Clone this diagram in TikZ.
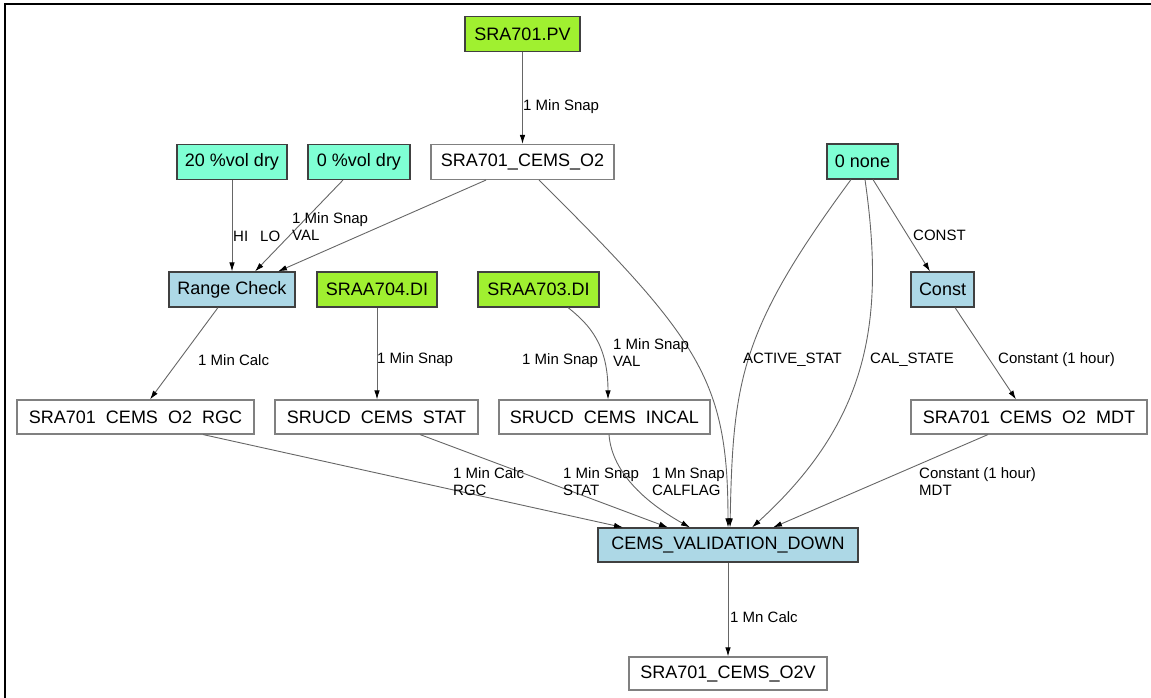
\documentclass[tikz,border=0pt]{standalone}
\usepackage{fontspec}
\setmainfont{Liberation Sans}
\usetikzlibrary{arrows.meta}
\definecolor{aqua}{HTML}{7FFFD4}
\definecolor{lblue}{HTML}{ADD8E6}
\definecolor{lgreen}{HTML}{A0F030}
\definecolor{edgegray}{HTML}{666666}
% wide gap standing in for a clipped underscore
\newcommand\usp{\hspace{0.556em}}

\begin{document}
\begin{tikzpicture}[x=1pt,y=-1pt,
  box/.style={draw=black!75, line width=1.1pt, minimum height=35pt, inner sep=0pt,
              font=\fontsize{18}{20}\selectfont},
  plain/.style={box, draw=black!50, fill=white},
  const/.style={box, fill=aqua},
  func/.style={box, fill=lblue},
  tag/.style={box, fill=lgreen},
  lbl/.style={anchor=west, inner sep=0pt, align=left, font=\fontsize{15}{17}\selectfont},
  link/.style={draw=edgegray, line width=0.9pt, -{Latex[length=9pt,width=5.5pt,color=black]}},
]
\useasboundingbox (0,0) rectangle (1151,698);
% window edge
\draw[line width=2.5pt] (5,698) -- (5,4) -- (1151,4);

% tags and constants
\node[tag, minimum width=115pt] (pv) at (522.5,34) {SRA701.PV};
\node[plain, minimum width=183pt] (o2) at (522.5,162) {SRA701\_CEMS\_O2};
\node[const, minimum width=110pt] (hi) at (232,162) {20 \%vol dry};
\node[const, minimum width=102pt] (lo) at (359,162) {0 \%vol dry};
\node[const, minimum width=71pt] (none) at (862.5,161.5) {0 none};

% functions and inputs
\node[func, minimum width=126pt] (rc) at (232,289.5) {Range Check};
\node[tag, minimum width=120pt] (d704) at (377,289.5) {SRAA704.DI};
\node[tag, minimum width=121pt] (d703) at (538.5,289.5) {SRAA703.DI};
\node[func, minimum width=63pt] (cst) at (942.5,289.5) {Const};

% intermediate points
\node[plain, minimum width=237pt, minimum height=34pt] (rgc) at (135.5,417) {SRA701\usp CEMS\usp O2\usp RGC};
\node[plain, minimum width=203pt, minimum height=34pt] (stat) at (376.5,417) {SRUCD\usp CEMS\usp STAT};
\node[plain, minimum width=211pt, minimum height=34pt] (incal) at (604.5,417) {SRUCD\usp CEMS\usp INCAL};
\node[plain, minimum width=236pt, minimum height=34pt] (mdt) at (1029,417) {SRA701\usp CEMS\usp O2\usp MDT};

% validation and output
\node[func, minimum width=260pt, minimum height=34pt] (cvd) at (728,545) {CEMS\_VALIDATION\_DOWN};
\node[plain, minimum width=198pt, minimum height=33pt] (o2v) at (728,673.5) {SRA701\_CEMS\_O2V};

% connectors
\draw[link] (pv) -- (o2);
\draw[link] (hi) -- (rc);
\draw[link] ([xshift=-16pt]lo.south) -- ([xshift=23pt]rc.north);
\draw[link] ([xshift=-36.5pt]o2.south) -- ([xshift=46pt]rc.north);
\draw[link] ([xshift=-14pt]rc.south) -- ([xshift=14.5pt]rgc.north);
\draw[link] (d704.south) -- (d704.south |- stat.north);
\draw[link] ([xshift=29.5pt]d703.south) .. controls (590,325) and (608,345) .. ([xshift=3.5pt]incal.north);
\draw[link] ([xshift=-11.5pt]none.south) .. controls (740,330) and (733,380) .. ([xshift=2pt]cvd.north);
\draw[link] ([xshift=2.5pt]none.south) .. controls (885,320) and (870,420) .. ([xshift=24pt]cvd.north);
\draw[link] ([xshift=10.5pt]none.south) -- ([xshift=-12.5pt]cst.north);
\draw[link] ([xshift=12.5pt]cst.south) -- ([xshift=-13pt]mdt.north);
\draw[link] ([xshift=16.5pt]o2.south) .. controls (700,340) and (728,380) .. (cvd.north);
\draw[link] ([xshift=67.5pt]rgc.south) -- ([xshift=-105pt]cvd.north);
\draw[link] ([xshift=43.5pt]stat.south) -- ([xshift=-60pt]cvd.north);
\draw[link] ([xshift=4.5pt]incal.south) .. controls (612,475) and (650,505) .. ([xshift=-38pt]cvd.north);
\draw[link] ([xshift=-41pt]mdt.south) -- ([xshift=45pt]cvd.north);
\draw[link] (cvd) -- (o2v);

% connector labels
\node[lbl] (lpv) at (523,107) {1 Min Snap};
\node[lbl] (lhi) at (233,236) {HI};
\node[lbl] (llo) at (260,236) {LO};
\node[lbl] (lval) at (292,227) {1 Min Snap\\VAL};
\node[lbl] (lrc) at (198,360) {1 Min Calc};
\node[lbl] (l704) at (377,360) {1 Min Snap};
\node[lbl] (l703a) at (522,361) {1 Min Snap};
\node[lbl] (l703b) at (613,352.5) {1 Min Snap\\VAL};
\node[lbl] (lact) at (743,360) {ACTIVE\_STAT};
\node[lbl] (lcal) at (870,360) {CAL\_STATE};
\node[lbl] (lconst) at (913,235) {CONST};
\node[lbl] (lcmdt) at (998,360) {Constant (1 hour)};
\node[lbl] (lrgc) at (453,481.5) {1 Min Calc\\RGC};
\node[lbl] (lstat) at (563,481.5) {1 Min Snap\\STAT};
\node[lbl] (lflag) at (652,481.5) {1 Mn Snap\\CALFLAG};
\node[lbl] (lmdt) at (919,481.5) {Constant (1 hour)\\MDT};
\node[lbl] (lo2v) at (730,617) {1 Mn Calc};
\end{tikzpicture}
\end{document}
